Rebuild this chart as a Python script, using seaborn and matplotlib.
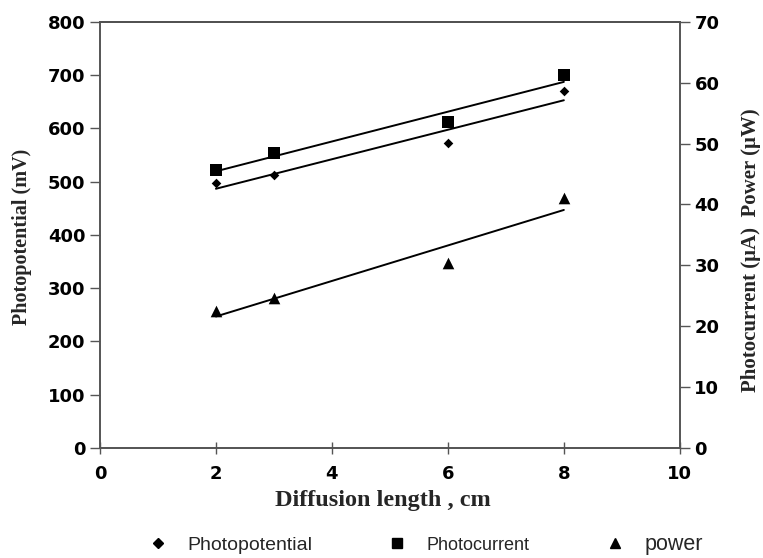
import matplotlib
matplotlib.use("Agg")
import matplotlib.pyplot as plt
from matplotlib.lines import Line2D
import seaborn as sns
import pandas as pd

# values
diffusion_length = [2, 3, 6, 8]
photopotential = [497, 512, 572, 670]      # mV, left axis
photocurrent = [45.6, 48.4, 53.5, 61.2]    # uA, right axis
power = [22.5, 24.6, 30.4, 41.0]           # uW, right axis

df = pd.DataFrame({'x': diffusion_length, 'pp': photopotential,
                   'pc': photocurrent, 'pw': power})

sns.set_style('ticks')
plt.rcParams['font.family'] = ['DejaVu Sans']

fig = plt.figure(figsize=(7.63, 5.58), dpi=100)
ax = fig.add_axes([0.131, 0.197, 0.76, 0.764])
ax2 = ax.twinx()

line_kws = {'color': 'black', 'lw': 1.4}
sc = {'color': 'black', 'edgecolor': 'black', 'alpha': 1, 'linewidths': 0}
sns.regplot(x='x', y='pp', data=df, ax=ax, ci=None, marker='D',
            scatter_kws=dict(sc, s=24), line_kws=line_kws)
sns.regplot(x='x', y='pc', data=df, ax=ax2, ci=None, marker='s',
            scatter_kws=dict(sc, s=64), line_kws=line_kws)
sns.regplot(x='x', y='pw', data=df, ax=ax2, ci=None, marker='^',
            scatter_kws=dict(sc, s=70), line_kws=line_kws)

ax.set_xlim(0, 10)
ax.set_ylim(0, 800)
ax2.set_ylim(0, 70)
ax.set_xticks(range(0, 11, 2))
ax.set_yticks(range(0, 801, 100))
ax2.set_yticks(range(0, 71, 10))

for a in (ax, ax2):
    a.tick_params(labelsize=13, width=1, length=7, color='#555555',
                  labelcolor='black')
    for lab in a.get_yticklabels() + a.get_xticklabels():
        lab.set_fontweight('bold')
    for s in a.spines.values():
        s.set_visible(True)
        s.set_color('#555555')
        s.set_linewidth(1.2)
ax.spines['top'].set_color('#222222')
ax.spines['bottom'].set_color('#444444')
ax.tick_params(axis='x', direction='inout', length=9, pad=8)

serif = {'family': 'Liberation Serif', 'weight': 'bold'}
ax.set_xlabel('Diffusion length , cm', fontdict=serif, fontsize=17.5)
ax.set_ylabel('Photopotential (mV)', fontdict=serif, fontsize=14.5)
ax2.set_ylabel('Photocurrent (\u03bcA)  Power (\u03bcW)', fontdict=serif,
               fontsize=15)
ax.xaxis.set_label_coords(0.488, -0.098)
ax.yaxis.set_label_coords(-0.117, 0.495)
ax2.yaxis.set_label_coords(1.106, 0.465)

handles = [
    Line2D([], [], ls='', marker='D', color='black', ms=5),
    Line2D([], [], ls='', marker='s', color='black', ms=7),
    Line2D([], [], ls='', marker='^', color='black', ms=7),
]
leg = fig.legend(handles, ['Photopotential', 'Photocurrent', 'power'],
                 loc='center left', bbox_to_anchor=(0.194, 0.024), ncol=3,
                 frameon=False, columnspacing=3.9, handlelength=1.0,
                 handletextpad=1.0, borderpad=0, borderaxespad=0,
                 prop={'family': 'Liberation Sans', 'size': 14})
leg.get_texts()[1].set_fontsize(13)
leg.get_texts()[2].set_fontsize(15.5)

fig.savefig('out.png', dpi=100)
